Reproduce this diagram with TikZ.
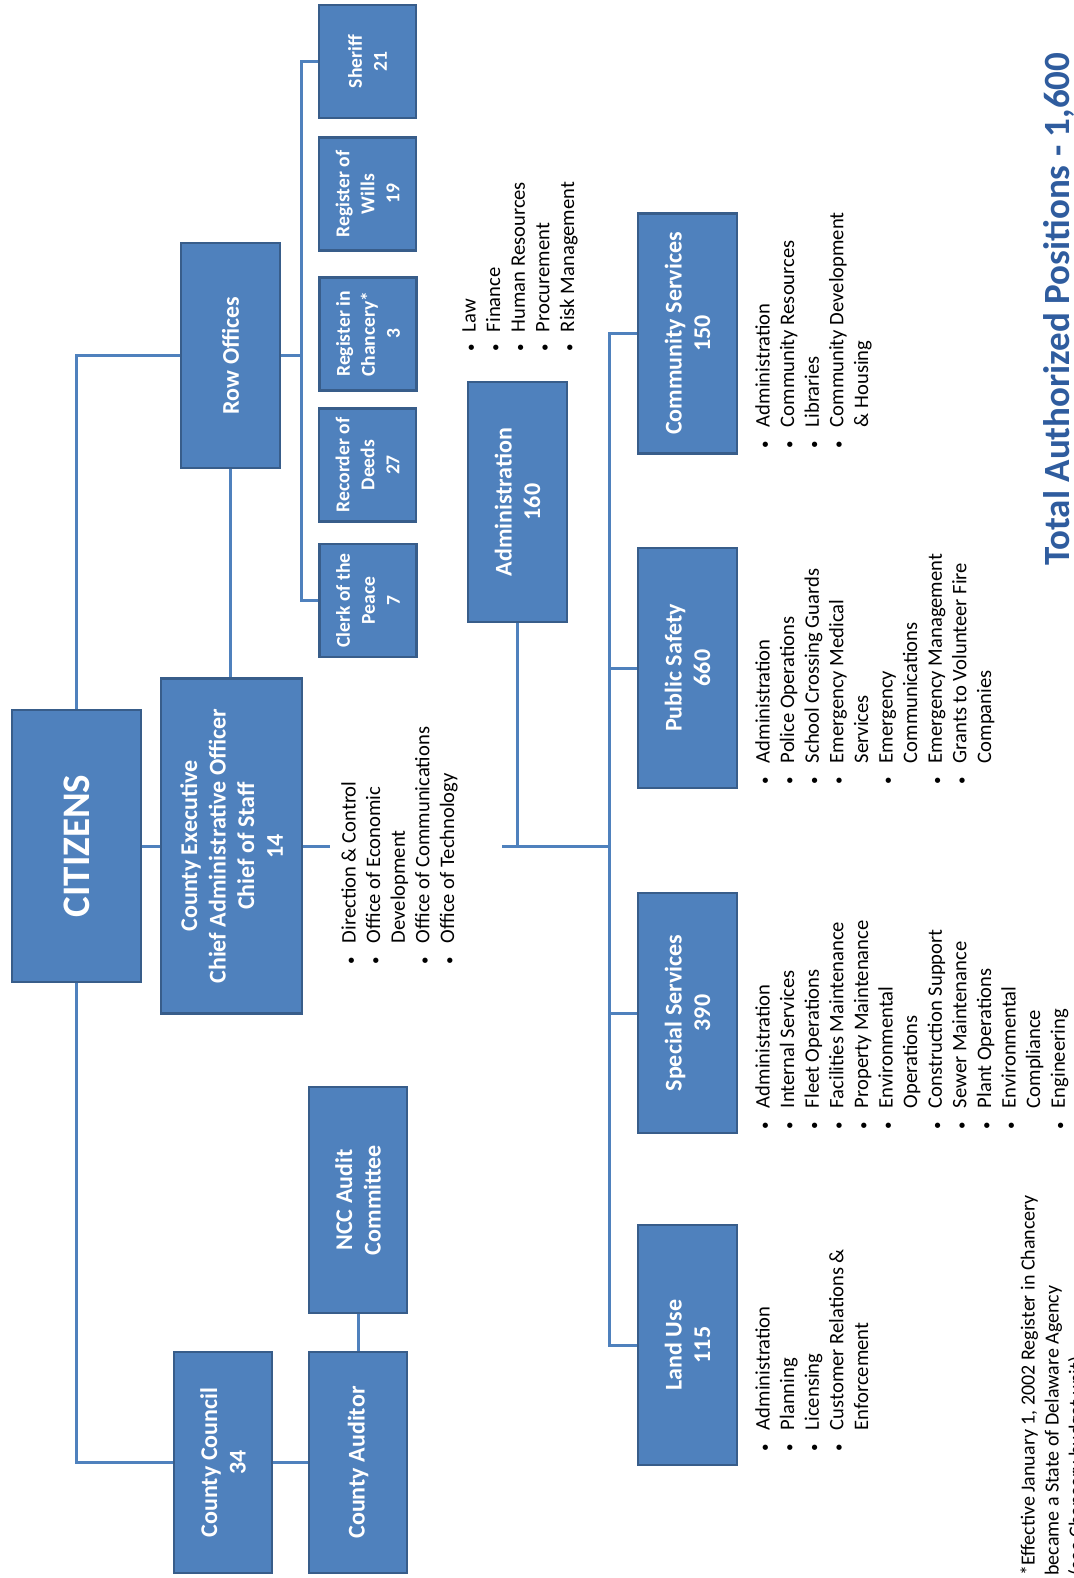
\documentclass[tikz,border=0pt]{standalone}
\usepackage{fontspec}
\setmainfont{Carlito}
\usepackage{xcolor}
\usepackage{tikz}

\definecolor{boxblue}{RGB}{79,129,189}
\definecolor{boxedge}{RGB}{56,93,138}
\definecolor{titleblue}{RGB}{47,92,158}
\newcommand{\bul}{{\fontsize{7.5}{7.5}\selectfont\textbullet}}

\begin{document}
\begin{tikzpicture}[x=0.5pt,y=-0.5pt,
  unit/.style={rotate=90,fill=boxblue,draw=boxedge,line width=1.2pt,text=white,align=center,inner sep=1pt,font=\bfseries\fontsize{12}{14.3}\selectfont},
  office/.style={unit,minimum width=56.5pt,minimum height=48.5pt,font=\bfseries\fontsize{9.8}{12.5}\selectfont},
  dept/.style={unit,minimum width=120pt,minimum height=49.5pt},
  bullets/.style={rotate=90,anchor=north west,inner sep=0pt,font=\fontsize{10.3}{12.3}\selectfont},
  link/.style={draw=boxblue,line width=1.5pt}]
\useasboundingbox (0,0) rectangle (1074,1578);

\node[unit,minimum width=136pt,minimum height=64.5pt,font=\bfseries\fontsize{19.5}{22}\selectfont] (citizens) at (76.5,846) {CITIZENS};
\node[unit,minimum width=167.5pt,minimum height=70.5pt] (exec) at (231.5,846) {County Executive\\Chief Administrative Officer\\Chief of Staff\\14};
\node[unit,minimum width=112.5pt,minimum height=49.5pt] (row) at (230.5,355.5) {Row Offices};

\node[office] (sheriff) at (367.5,61.5) {Sheriff\\21};
\node[office] (wills) at (367.5,194) {Register of\\Wills\\19};
\node[office] (chancery) at (368,334) {Register in\\Chancery*\\3};
\node[office] (deeds) at (367.5,465) {Recorder of\\Deeds\\27};
\node[office] (clerk) at (368,600.5) {Clerk of the\\Peace\\7};

\node[dept] (admin) at (517.5,502) {Administration\\160};
\node[dept] (community) at (687.5,333.5) {Community Services\\150};
\node[dept] (safety) at (687.5,668) {Public Safety\\660};
\node[dept] (special) at (687.5,1013) {Special Services\\390};
\node[dept] (landuse) at (687.5,1345) {Land Use\\115};

\node[unit,minimum width=110.5pt,minimum height=49pt] (council) at (223,1462.5) {County Council\\34};
\node[unit,minimum width=110.5pt,minimum height=49pt] (auditor) at (358,1462.5) {County Auditor};
\node[unit,minimum width=113pt,minimum height=49pt] (ncc) at (358,1200) {NCC Audit\\Committee};

\coordinate (rowbus) at (301,355.5);
\coordinate (execend) at (330,846);
\coordinate (adminstub) at (502,846);
\coordinate (busjoin) at (609,846);

\draw[link] (citizens.east) |- (row.north);
\draw[link] (row.west) -- (row.west |- exec.east);
\draw[link] (citizens.south) -- (exec.north);
\draw[link] (exec.south) -- (execend);
\draw[link] (row.south) -- (rowbus);
\draw[link] (sheriff.north) -| (rowbus) |- (clerk.north);
\draw[link] (citizens.west) |- (council.north);
\draw[link] (council.south) -- (auditor.north);
\draw[link] (ncc.west) -- (auditor.east);
\draw[link] (adminstub) -- (busjoin);
\draw[link] (admin.west) -- (admin.west |- busjoin);
\draw[link] (community.north) -| (busjoin) |- (landuse.north);
\draw[link] (safety.north) -- (safety.north -| busjoin);
\draw[link] (special.north) -- (special.north -| busjoin);

\node[bullets] (execlist) at (338,965) {\begin{tabular}{@{}l@{\hspace{7pt}}l@{}}
\bul & Direction \& Control\\ \bul & Office of Economic\\ & Development\\
\bul & Office of Communications\\ \bul & Office of Technology\end{tabular}};
\node[bullets] (adminlist) at (458,352) {\begin{tabular}{@{}l@{\hspace{6pt}}l@{}}
\bul & Law\\ \bul & Finance\\ \bul & Human Resources\\
\bul & Procurement\\ \bul & Risk Management\end{tabular}};
\node[bullets] (communitylist) at (752,449) {\begin{tabular}{@{}l@{\hspace{7pt}}l@{}}
\bul & Administration\\ \bul & Community Resources\\ \bul & Libraries\\
\bul & Community Development\\ & \& Housing\end{tabular}};
\node[bullets] (safetylist) at (752,785) {\begin{tabular}{@{}l@{\hspace{7pt}}l@{}}
\bul & Administration\\ \bul & Police Operations\\ \bul & School Crossing Guards\\
\bul & Emergency Medical\\ & Services\\ \bul & Emergency\\ & Communications\\
\bul & Emergency Management\\ \bul & Grants to Volunteer Fire\\ & Companies\end{tabular}};
\node[bullets] (speciallist) at (752,1130) {\begin{tabular}{@{}l@{\hspace{7pt}}l@{}}
\bul & Administration\\ \bul & Internal Services\\ \bul & Fleet Operations\\
\bul & Facilities Maintenance\\ \bul & Property Maintenance\\ \bul & Environmental\\ & Operations\\
\bul & Construction Support\\ \bul & Sewer Maintenance\\ \bul & Plant Operations\\
\bul & Environmental\\ & Compliance\\ \bul & Engineering\end{tabular}};
\node[bullets] (landuselist) at (752,1452) {\begin{tabular}{@{}l@{\hspace{7pt}}l@{}}
\bul & Administration\\ \bul & Planning\\ \bul & Licensing\\
\bul & Customer Relations \&\\ & Enforcement\end{tabular}};

\node[rotate=90,anchor=north west,inner sep=0pt,align=left,font=\fontsize{10}{12}\selectfont] (note) at (1020,1576) {*Effective January 1, 2002 Register in Chancery\\became a State of Delaware Agency\\(see Chancery budget unit)};
\node[rotate=90,anchor=base west,inner sep=0pt,text=titleblue,font=\bfseries\fontsize{18.5}{20}\selectfont] (total) at (1069,566) {Total Authorized Positions - 1,600};
\end{tikzpicture}
\end{document}
